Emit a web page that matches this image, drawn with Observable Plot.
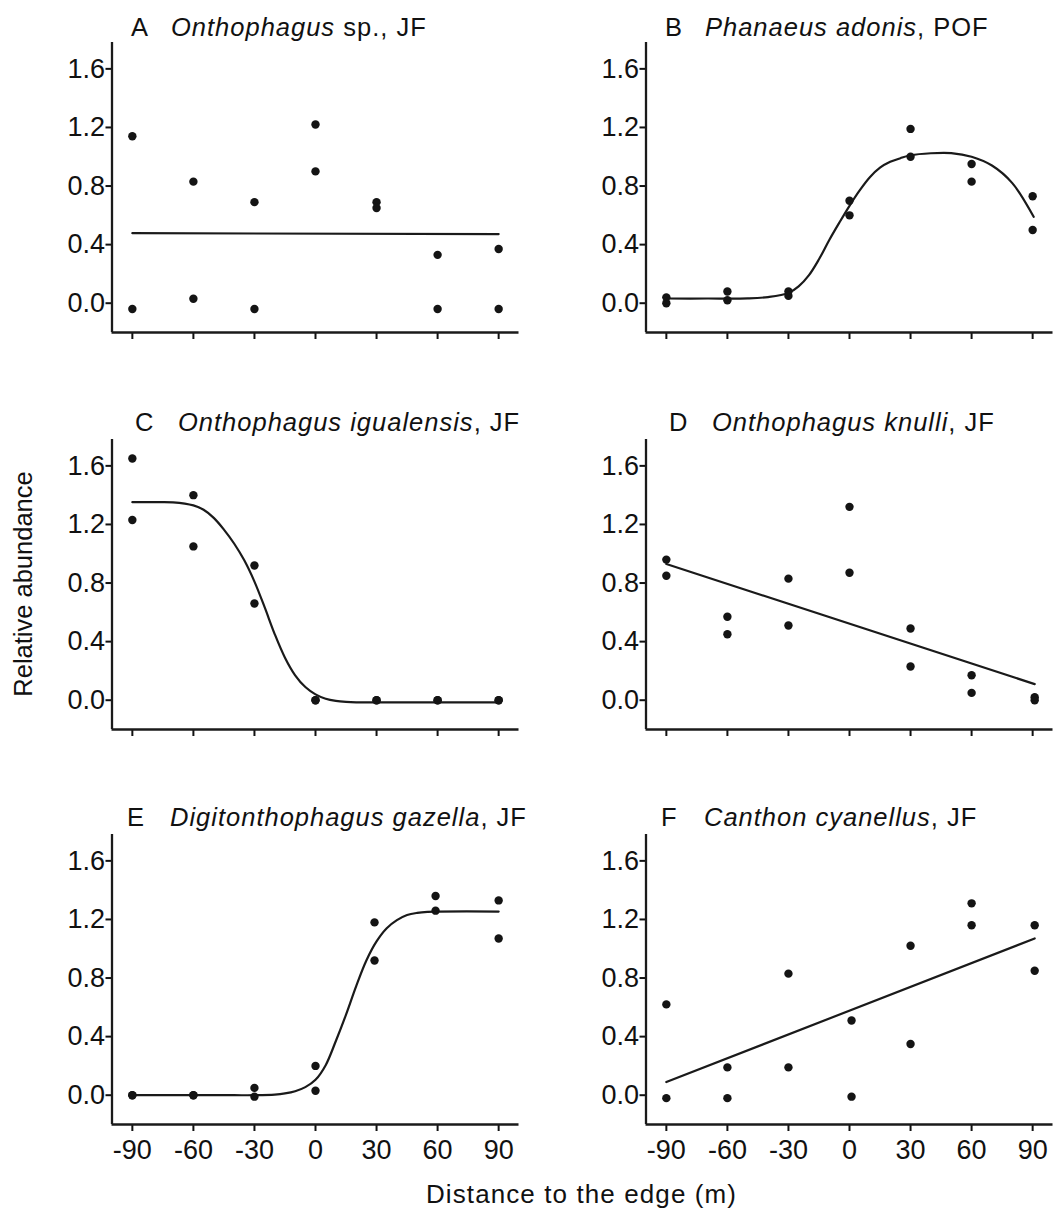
<!DOCTYPE html>
<html>
<head>
<meta charset="utf-8">
<script src="https://cdn.jsdelivr.net/npm/d3@7"></script>
<script src="https://cdn.jsdelivr.net/npm/@observablehq/plot@0.6"></script>
<style>
  html, body { margin: 0; padding: 0; background: #fff; }
  #fig { position: relative; width: 1064px; height: 1211px; background: #fff; overflow: hidden;
         font-family: "Liberation Sans", Arial, Helvetica, sans-serif; color: #111; }
  .panel { position: absolute; }
  .txt { position: absolute; white-space: nowrap; line-height: 1; }
  .title { font-size: 25.5px; letter-spacing: 1px; }
  .title i { font-style: italic; }
</style>
</head>
<body>
<div id="fig"></div>
<script>
// ---------------- data ----------------
const xTicks = [-90, -60, -30, 0, 30, 60, 90];
const yTicks = [0, 0.4, 0.8, 1.2, 1.6];

const letters = ["A", "B", "C", "D", "E", "F"];
const speciesNames = ["Onthophagus", "Phanaeus adonis", "Onthophagus igualensis",
                      "Onthophagus knulli", "Digitonthophagus gazella", "Canthon cyanellus"];
const suffixes = [" sp., JF", ", POF", ", JF", ", JF", ", JF", ", JF"];

const xLabel = "Distance to the edge (m)";
const yLabel = "Relative abundance";

// observed points (two replicates per distance)
const A_x = [-90, -90, -60, -60, -30, -30, 0, 0, 30, 30, 60, 60, 90, 90];
const A_y = [1.14, -0.04, 0.83, 0.03, 0.69, -0.04, 1.22, 0.90, 0.69, 0.65, 0.33, -0.04, 0.37, -0.04];
const B_x = [-90, -90, -60, -60, -30, -30, 0, 0, 30, 30, 60, 60, 90, 90];
const B_y = [0.04, 0.00, 0.08, 0.02, 0.08, 0.05, 0.70, 0.60, 1.19, 1.00, 0.95, 0.83, 0.73, 0.50];
const C_x = [-90, -90, -60, -60, -30, -30, 0, 0, 30, 30, 60, 60, 90, 90];
const C_y = [1.65, 1.23, 1.40, 1.05, 0.92, 0.66, 0.00, 0.00, 0.00, 0.00, 0.00, 0.00, 0.00, 0.00];
const D_x = [-90, -90, -60, -60, -30, -30, 0, 0, 30, 30, 60, 60, 91, 91];
const D_y = [0.96, 0.85, 0.57, 0.45, 0.83, 0.51, 1.32, 0.87, 0.49, 0.23, 0.17, 0.05, 0.02, 0.00];
const E_x = [-90, -90, -60, -60, -30, -30, 0, 0, 29, 29, 59, 59, 90, 90];
const E_y = [0.00, 0.00, 0.00, 0.00, 0.05, -0.01, 0.20, 0.03, 1.18, 0.92, 1.36, 1.26, 1.33, 1.07];
const F_x = [-90, -90, -60, -60, -30, -30, 1, 1, 30, 30, 60, 60, 91, 91];
const F_y = [0.62, -0.02, 0.19, -0.02, 0.83, 0.19, 0.51, -0.01, 1.02, 0.35, 1.31, 1.16, 1.16, 0.85];

// fitted curves
const A_fitX = [-90, 90];
const A_fitY = [0.478, 0.472];
const B_fitX = [-90, -70, -50, -40, -30, -25, -20, -15, -10, -5, 0, 5, 10, 15, 20, 25, 30, 40, 50, 60, 70, 80, 90.5];
const B_fitY = [0.032, 0.032, 0.033, 0.042, 0.07, 0.115, 0.19, 0.30, 0.43, 0.55, 0.665, 0.77, 0.86, 0.925, 0.965, 0.99, 1.01, 1.024, 1.025, 1.0, 0.94, 0.82, 0.59];
const C_fitX = [-90, -80, -70, -60, -55, -50, -45, -40, -35, -30, -25, -20, -15, -10, -5, 0, 5, 10, 15, 20, 30, 90];
const C_fitY = [1.352, 1.352, 1.351, 1.33, 1.30, 1.245, 1.165, 1.07, 0.955, 0.81, 0.635, 0.45, 0.29, 0.17, 0.09, 0.04, 0.01, -0.005, -0.012, -0.015, -0.015, -0.015];
const D_fitX = [-90, 91];
const D_fitY = [0.93, 0.11];
const E_fitX = [-90, -60, -40, -30, -20, -15, -10, -5, 0, 5, 10, 15, 20, 25, 30, 35, 40, 45, 50, 55, 60, 90];
const E_fitY = [0, 0, 0, 0, 0.004, 0.012, 0.027, 0.055, 0.105, 0.205, 0.37, 0.55, 0.745, 0.92, 1.05, 1.14, 1.195, 1.23, 1.245, 1.252, 1.254, 1.254];
const F_fitX = [-90, 91];
const F_fitY = [0.09, 1.07];

const pointsX = [A_x, B_x, C_x, D_x, E_x, F_x];
const pointsY = [A_y, B_y, C_y, D_y, E_y, F_y];
const fitsX = [A_fitX, B_fitX, C_fitX, D_fitX, E_fitX, F_fitX];
const fitsY = [A_fitY, B_fitY, C_fitY, D_fitY, E_fitY, F_fitY];
const fitCurves = ["linear", "catmull-rom", "catmull-rom", "linear", "catmull-rom", "linear"];

// ---------------- layout ----------------
const fig = document.getElementById("fig");
const FONT = '"Liberation Sans", Arial, Helvetica, sans-serif';
const colLeft = [0, 534];
const colWidth = [534, 530];
const rowTop = [42, 439.3, 833.5];      // top of each plot area
const titleBase = [37, 432, 827];       // title baselines
const letterLeft = [131, 135, 127];
const speciesLeft = [171, 178, 170];
const MT = 10, MB = 40, PH = 290, ML = 111.5, RIGHT = 518.5;
const TICKFS = 27;

function makePanel(i) {
  const col = i % 2, row = Math.floor(i / 2);
  const pts = pointsX[i].map((x, k) => ({x, y: pointsY[i][k]}));
  const fit = fitsX[i].map((x, k) => ({x, y: fitsY[i][k]}));
  const lastRow = row === 2;
  const chart = Plot.plot({
    width: colWidth[col],
    height: MT + PH + MB,
    marginLeft: ML,
    marginRight: colWidth[col] - RIGHT,
    marginTop: MT,
    marginBottom: MB,
    x: {domain: [-100, 100]},
    y: {domain: [-0.2, 1.78]},
    style: {fontFamily: FONT, fontSize: TICKFS + "px", color: "#111", background: "transparent", overflow: "visible"},
    marks: [
      Plot.axisY({ticks: yTicks, tickFormat: d => d.toFixed(1), tickSize: 6, tickPadding: 1,
                  fontSize: TICKFS, label: null, strokeWidth: 2}),
      Plot.axisX({ticks: xTicks, tickFormat: lastRow ? (d => String(d)) : (() => ""),
                  tickSize: 7, tickPadding: 8, fontSize: TICKFS, label: null, strokeWidth: 2}),
      Plot.ruleX([-100], {stroke: "#1a1a1a", strokeWidth: 2.3}),
      Plot.ruleY([-0.2], {stroke: "#1a1a1a", strokeWidth: 2.3}),
      Plot.line(fit, {x: "x", y: "y", curve: fitCurves[i], stroke: "#1a1a1a", strokeWidth: 2.2}),
      Plot.dot(pts, {x: "x", y: "y", r: 4.2, fill: "#141414", stroke: "none"})
    ]
  });
  chart.classList.add("panel");
  chart.style.left = colLeft[col] + "px";
  chart.style.top = (rowTop[row] - MT) + "px";
  fig.appendChild(chart);

  // title (baseline ~ 0.8465em below top for line-height 1)
  const fs = 25.5;
  const top = titleBase[row] - 0.8465 * fs;
  const l = document.createElement("div");
  l.className = "txt title";
  l.style.left = (colLeft[col] + letterLeft[row]) + "px";
  l.style.top = top + "px";
  l.textContent = letters[i];
  fig.appendChild(l);
  const s = document.createElement("div");
  s.className = "txt title";
  s.style.left = (colLeft[col] + speciesLeft[row]) + "px";
  s.style.top = top + "px";
  const it = document.createElement("i");
  it.textContent = speciesNames[i];
  s.appendChild(it);
  s.appendChild(document.createTextNode(suffixes[i]));
  fig.appendChild(s);
}

for (let i = 0; i < 6; i++) makePanel(i);

// x axis label
const xl = document.createElement("div");
xl.className = "txt";
xl.style.fontSize = "26px";
xl.style.letterSpacing = "1.1px";
xl.style.left = "581.5px";
xl.style.top = (1203 - 0.8465 * 26) + "px";
xl.style.transform = "translateX(-50%)";
xl.textContent = xLabel;
fig.appendChild(xl);

// y axis label
const yl = document.createElement("div");
yl.className = "txt";
yl.style.fontSize = "25.5px";
yl.style.left = "24px";
yl.style.top = "584px";
yl.style.transform = "translate(-50%, -50%) rotate(-90deg)";
yl.textContent = yLabel;
fig.appendChild(yl);
</script>
</body>
</html>
